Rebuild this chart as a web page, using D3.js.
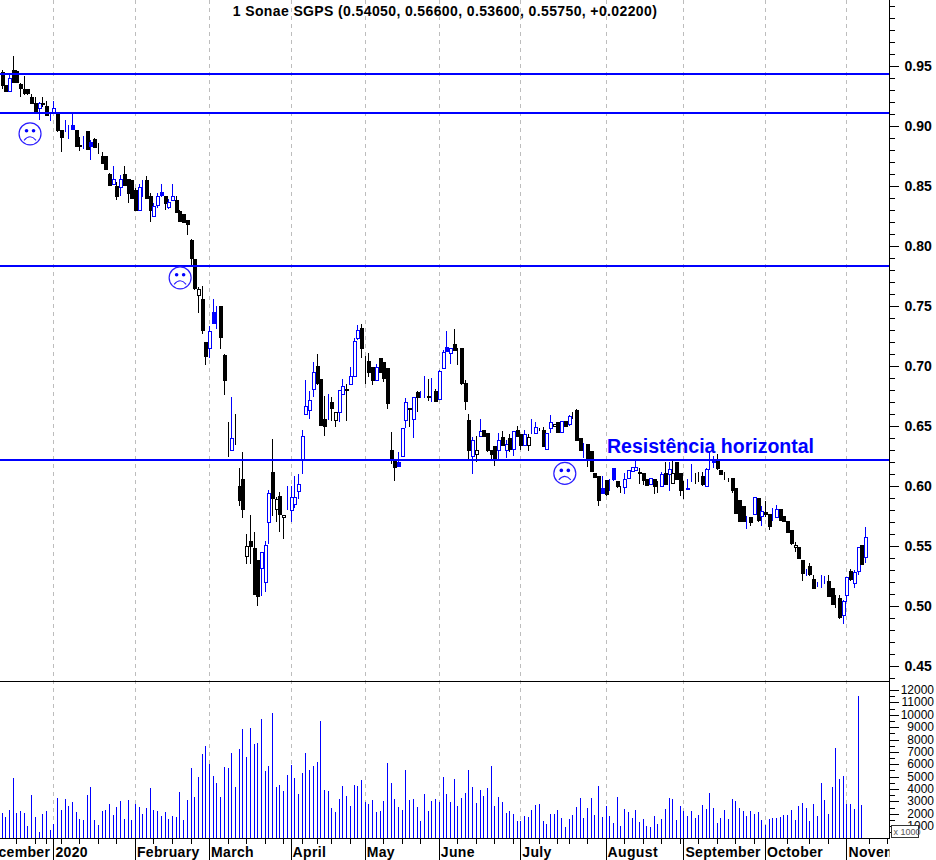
<!DOCTYPE html>
<html>
<head>
<meta charset="utf-8">
<title>Sonae SGPS</title>
<script src="https://cdn.jsdelivr.net/npm/d3@7/dist/d3.min.js"></script>
<style>
	html, body { margin: 0; padding: 0; background: #fff; }
	svg { display: block; font-family: "Liberation Sans", Arial, sans-serif; }
</style>
</head>
<body>
<div id="chart"></div>
<script>
// values, one entry per trading day
var opens = [
	.945,.934,.929,.947,.946,.935,.931,.931,.924,.919,
	.915,.919,.917,.9105,.911,.911,.897,.8965,.897,.901,
	.897,.884,.8895,.896,.887,.889,.881,.875,.875,.860,
	.852,.850,.849,.860,.856,.855,.847,.830,.851,.855,
	.842,.825,.834,.845,.842,.833,.839,.838,.829,.827,
	.822,.805,.789,.759,.756,.720,.715,.745,.739,.750,
	.709,.627,.630,.638,.600,.606,.542,.554,.548,.538,
	.532,.520,.570,.612,.581,.592,.574,.590,.580,.585,
	.596,.622,.660,.664,.681,.700,.689,.656,.670,.670,
	.655,.662,.676,.680,.685,.692,.723,.732,.699,.704,
	.699,.688,.707,.703,.698,.630,.621,.620,.625,.655,
	.664,.656,.678,.679,.680,.675,.683,.679,.673,.699,
	.716,.711,.718,.710,.715,.686,.655,.625,.627,.642,
	.647,.644,.630,.633,.630,.641,.630,.640,.631,.647,
	.643,.634,.634,.646,.644,.647,.647,.631,.648,.650,
	.653,.645,.654,.651,.6575,.663,.640,.634,.635,.629,
	.611,.608,.598,.605,.605,.615,.604,.5995,.599,.6065,
	.612,.6135,.612,.611,.606,.602,.606,.5995,.600,.611,
	.610,.603,.620,.611,.595,.5985,.606,.6045,.604,.608,
	.600,.620,.620,.622,.613,.608,.605,.607,.598,.5885,
	.583,.572,.574,.577,.590,.5745,.5785,.577,.5775,.5745,
	.581,.575,.571,.563,.549,.5495,.538,.5285,.533,.5225,
	.518,.5205,.521,.521,.515,.501,.507,.492,.509,.529,
	.519,.5295,.551,.5405
];
var highs = [
	.947,.934,.943,.958,.947,.936,.942,.931,.927,.924,
	.920,.924,.921,.911,.921,.912,.897,.905,.901,.910,
	.897,.891,.892,.896,.888,.890,.886,.878,.875,.861,
	.867,.853,.859,.867,.856,.855,.848,.852,.855,.858,
	.844,.836,.844,.852,.842,.839,.852,.842,.830,.827,
	.822,.806,.789,.766,.767,.720,.733,.756,.750,.750,
	.710,.653,.674,.660,.615,.628,.560,.576,.562,.538,
	.545,.554,.597,.639,.591,.595,.576,.600,.600,.608,
	.610,.647,.688,.679,.703,.710,.689,.675,.677,.674,
	.662,.680,.689,.685,.699,.723,.734,.735,.708,.711,
	.699,.702,.707,.703,.698,.645,.621,.628,.648,.673,
	.665,.674,.679,.679,.692,.689,.690,.681,.697,.713,
	.729,.715,.731,.715,.715,.688,.660,.641,.642,.656,
	.647,.644,.630,.633,.644,.646,.638,.643,.646,.650,
	.643,.647,.643,.656,.653,.648,.649,.644,.659,.652,
	.653,.654,.654,.659,.662,.664,.640,.636,.635,.629,
	.611,.608,.608,.605,.606,.615,.604,.600,.611,.6135,
	.616,.622,.615,.611,.606,.607,.606,.604,.612,.620,
	.620,.622,.620,.611,.604,.606,.618,.611,.612,.612,
	.615,.628,.625,.627,.613,.612,.607,.607,.598,.5885,
	.583,.575,.574,.591,.590,.583,.5875,.577,.5815,.584,
	.581,.575,.571,.563,.553,.5495,.538,.531,.536,.526,
	.520,.5255,.525,.5255,.515,.509,.509,.505,.524,.531,
	.530,.5495,.551,.566
];
var lows = [
	.931,.928,.928,.937,.937,.924,.926,.926,.919,.911,
	.905,.916,.910,.904,.911,.895,.878,.895,.889,.897,
	.884,.879,.881,.881,.872,.882,.877,.868,.864,.851,
	.851,.838,.842,.850,.836,.839,.830,.830,.841,.840,
	.820,.825,.832,.841,.830,.831,.839,.828,.821,.820,
	.809,.783,.763,.744,.727,.701,.707,.735,.731,.714,
	.676,.624,.630,.634,.583,.573,.535,.535,.510,.500,
	.508,.512,.552,.575,.570,.562,.556,.580,.570,.582,
	.589,.610,.660,.656,.674,.684,.651,.642,.655,.654,
	.649,.653,.676,.654,.685,.691,.722,.707,.685,.691,
	.684,.688,.695,.687,.664,.618,.604,.617,.625,.648,
	.649,.640,.662,.673,.673,.671,.670,.670,.673,.698,
	.712,.702,.713,.701,.684,.663,.621,.610,.620,.641,
	.642,.628,.622,.617,.622,.633,.623,.628,.625,.642,
	.630,.634,.629,.643,.643,.646,.633,.631,.644,.650,
	.644,.644,.650,.650,.656,.638,.629,.623,.616,.612,
	.607,.583,.594,.592,.596,.604,.598,.594,.593,.606,
	.612,.6135,.602,.601,.601,.602,.593,.594,.600,.602,
	.596,.603,.606,.592,.589,.597,.603,.602,.603,.600,
	.600,.613,.615,.613,.610,.605,.603,.594,.577,.571,
	.5705,.564,.567,.577,.570,.567,.5745,.5635,.571,.574,
	.572,.571,.561,.551,.545,.539,.521,.525,.525,.515,
	.516,.515,.518,.5085,.5005,.498,.489,.485,.503,.521,
	.515,.5255,.535,.536
];
var closes = [
	.934,.929,.940,.937,.9365,.932,.928,.9275,.919,.911,
	.919,.918,.9095,.9105,.915,.897,.891,.8965,.897,.8975,
	.884,.8835,.8895,.881,.884,.882,.881,.869,.864,.851,
	.856,.842,.856,.851,.844,.840,.830,.849,.851,.840,
	.830,.833,.8415,.8425,.836,.837,.842,.828,.821,.8205,
	.819,.790,.765,.764,.730,.708,.729,.736,.739,.724,
	.688,.627,.640,.638,.588,.581,.550,.5495,.510,.508,
	.545,.551,.594,.590,.589,.577,.576,.590,.5905,.591,
	.602,.642,.667,.672,.695,.686,.651,.6505,.670,.665,
	.662,.680,.683,.681,.692,.721,.730,.715,.699,.695,
	.688,.699,.695,.690,.669,.622,.616,.617,.648,.670,
	.665,.674,.6735,.679,.680,.674,.683,.671,.696,.712,
	.713,.715,.713,.710,.686,.671,.630,.638,.630,.646,
	.642,.630,.627,.622,.638,.634,.635,.631,.646,.642,
	.634,.643,.641,.646,.649,.647,.634,.644,.653,.652,
	.645,.654,.650,.658,.6575,.638,.630,.634,.622,.612,
	.608,.588,.594,.593,.605,.6055,.600,.5995,.606,.6135,
	.6155,.616,.611,.605,.601,.607,.600,.5995,.610,.602,
	.614,.611,.606,.597,.595,.598,.606,.6045,.604,.601,
	.614,.620,.6205,.615,.610,.608,.605,.597,.577,.571,
	.5705,.572,.570,.591,.572,.579,.577,.567,.5775,.581,
	.572,.571,.562,.552,.551,.540,.527,.5285,.526,.515,
	.518,.5205,.521,.5085,.5015,.501,.491,.504,.524,.522,
	.528,.5495,.5355,.5575
];
var volumes = [
	2025,1700,2300,4860,2100,2200,2100,1000,3500,1730,
	510,1970,2200,675,1160,3270,2300,3190,2620,2940,
	2130,1570,1490,3510,4160,1490,1080,2210,2300,2780,
	1890,2540,3020,1570,3100,1490,2780,2540,1970,2460,
	4080,2300,2210,1810,2130,1570,1810,1730,3750,1490,
	3100,5700,3350,4970,6830,7480,6020,5050,4480,3350,
	5780,5700,6910,4160,7240,8860,6590,8940,7640,7720,
	9670,5450,5860,10150,4160,4320,3830,5130,5940,4890,
	3590,5290,6910,5530,5860,6180,9500,3920,3830,2460,
	2130,3190,4240,3430,2620,4320,4240,4730,2940,2780,
	3100,2130,2210,3020,6100,4480,3190,2540,2300,5530,
	3100,3190,2540,1400,3590,2210,3020,3190,2940,4970,
	3590,2940,4810,2620,3270,3670,5530,4160,2860,3920,
	3430,4080,5860,2620,3350,2940,2050,2210,1970,1400,
	1400,1810,1730,2300,2700,2780,1400,1160,1970,1970,
	2300,1650,920,1570,1890,2540,3270,1650,2460,3270,
	1890,4240,1730,2620,1810,1215,3350,1000,2380,2130,
	1650,2300,1320,1570,1000,920,1810,1160,1570,2380,
	3270,3190,1490,2620,2210,1810,2210,1650,1890,2700,
	2380,3670,2460,1240,1650,2300,1570,3190,3020,2460,
	2210,1810,2210,1970,2130,1490,1080,1570,1650,1650,
	1730,1890,1890,2300,1490,2620,2860,2460,1400,2780,
	1810,4480,3100,1970,4160,7320,4810,5050,2780,2780,
	2380,11530,2700
];

var monthLabels = ["December", "2020", "February", "March", "April", "May", "June", "July", "August", "September", "October", "November"];
var monthStarts = [-6.4, 14, 36, 56, 78, 98, 118, 140, 163, 184, 206, 228];
var weekTicks = [4, 9, 12, 16, 21, 26, 31, 41, 46, 51, 61, 66, 71, 76, 81, 85, 89, 94, 103, 108, 113, 123, 128, 133, 138, 145, 150, 153, 158, 168, 173, 178, 183, 188, 193, 198, 203, 212, 218, 223, 234, 239];
var priceLabels = [0.45, 0.50, 0.55, 0.60, 0.65, 0.70, 0.75, 0.80, 0.85, 0.90, 0.95];
var resistanceLevels = [0.9435, 0.911, 0.7835, 0.622];
var sadIndex = [7.7, 48.2, 152];
var sadPrice = [0.8935, 0.7735, 0.6105];
var title = "1 Sonae SGPS (0.54050, 0.56600, 0.53600, 0.55750, +0.02200)";

var width = 936, height = 860;
var rightEdge = 889.5, paneLine = 681.5, baseLine = 838.5;

var x = d3.scaleLinear().domain([0, 233]).range([1.5, 865]);
var y = d3.scaleLinear().domain([0.95, 0.45]).range([66, 666]);
var yVol = d3.scaleLinear().domain([0, 12000]).range([baseLine, 690]);

var px = function(v) { return Math.round(v) + 0.5; };

var svg = d3.select("#chart").append("svg")
	.attr("width", width)
	.attr("height", height);

// month separators first, everything else sits on top of them
svg.append("g").selectAll("line")
	.data(monthStarts.slice(1))
	.enter().append("line")
		.attr("x1", function(d) { return px(x(d)); })
		.attr("x2", function(d) { return px(x(d)); })
		.attr("y1", 0)
		.attr("y2", baseLine)
		.attr("stroke", "#bdbdbd")
		.attr("stroke-dasharray", "4,4");

var marks = svg.append("g").attr("shape-rendering", "crispEdges");

var colour = function(i) {
	return (i > 0 && closes[i] > closes[i - 1]) ? "#0000ff" : "#000";
};

var bars = marks.append("g").selectAll("g")
	.data(d3.range(opens.length))
	.enter().append("g")
		.attr("stroke", colour);

bars.append("line")
	.attr("x1", function(i) { return px(x(i)); })
	.attr("x2", function(i) { return px(x(i)); })
	.attr("y1", function(i) { return y(highs[i]); })
	.attr("y2", function(i) { return y(lows[i]); });

bars.append("rect")
	.attr("x", function(i) { return px(x(i)) - 1.5; })
	.attr("width", 3)
	.attr("y", function(i) { return px(y(Math.max(opens[i], closes[i]))); })
	.attr("height", function(i) { return Math.round(Math.abs(y(opens[i]) - y(closes[i]))); })
	.attr("fill", function(i) {
		return closes[i] < opens[i] ? colour(i) : "#fff";
	});

marks.append("g").selectAll("line")
	.data(volumes)
	.enter().append("line")
		.attr("x1", function(d, i) { return px(x(i)); })
		.attr("x2", function(d, i) { return px(x(i)); })
		.attr("y1", function(d) { return yVol(d); })
		.attr("y2", baseLine)
		.attr("stroke", "#0000ff");

marks.append("g").selectAll("line")
	.data(resistanceLevels)
	.enter().append("line")
		.attr("x1", 0)
		.attr("x2", rightEdge)
		.attr("y1", function(d) { return y(d); })
		.attr("y2", function(d) { return y(d); })
		.attr("stroke", "#0000ff")
		.attr("stroke-width", 2);

// the three frowns
var faces = svg.append("g").selectAll("g")
	.data(sadIndex)
	.enter().append("g")
		.attr("transform", function(d, i) {
			return "translate(" + x(d) + "," + y(sadPrice[i]) + ")";
		})
		.attr("fill", "none")
		.attr("stroke", "#2a1cff");

faces.append("circle").attr("r", 11).attr("stroke-width", 1.2);
faces.append("path")
	.attr("d", "M-6,6.5 Q0,-0.5 6,6.5")
	.attr("stroke-width", 1.1);
faces.selectAll(".eye")
	.data([-3.5, 3.5])
	.enter().append("circle")
		.attr("class", "eye")
		.attr("cx", function(d) { return d; })
		.attr("cy", -3)
		.attr("r", 1.8)
		.attr("fill", "#0000ff")
		.attr("stroke", "none");

svg.append("text")
	.attr("x", 607)
	.attr("y", 453)
	.attr("font-size", 19.5)
	.attr("font-weight", "bold")
	.attr("fill", "#0000ff")
	.text("Resistência horizontal");

svg.append("text")
	.attr("x", 445)
	.attr("y", 16)
	.attr("text-anchor", "middle")
	.attr("font-size", 14)
	.attr("letter-spacing", 0.38)
	.attr("font-weight", "bold")
	.text(title);

// frame
var frame = svg.append("g").attr("shape-rendering", "crispEdges").attr("stroke", "#000");
frame.append("line").attr("x1", rightEdge).attr("x2", rightEdge).attr("y1", 0).attr("y2", baseLine);
frame.append("line").attr("x1", 0).attr("x2", rightEdge).attr("y1", paneLine).attr("y2", paneLine);
frame.append("line").attr("x1", 0).attr("x2", rightEdge).attr("y1", baseLine).attr("y2", baseLine);

// right axes, minor ticks go in a second call without labels
var priceMinor = d3.axisRight(y)
	.tickValues(d3.range(44, 101).map(function(d) { return d / 100; }))
	.tickSize(5)
	.tickFormat("");
var priceMajor = d3.axisRight(y)
	.tickValues(priceLabels)
	.tickSize(9)
	.tickPadding(6)
	.tickFormat(d3.format(".2f"));
var volMinor = d3.axisRight(yVol)
	.tickValues(d3.range(500, 12500, 1000))
	.tickSize(5)
	.tickFormat("");
var volMajor = d3.axisRight(yVol)
	.tickValues(d3.range(1000, 13000, 1000))
	.tickSize(9)
	.tickFormat("");

[priceMinor, priceMajor, volMinor, volMajor].forEach(function(axis) {
	var g = svg.append("g")
		.attr("transform", "translate(" + rightEdge + ",0)")
		.attr("shape-rendering", "crispEdges")
		.call(axis);
	g.select(".domain").remove();
});

svg.selectAll("g text")
	.filter(function() { return this.parentNode.classList.contains("tick"); })
	.attr("font-family", "Liberation Sans")
	.attr("font-size", 14)
	.attr("font-weight", "bold")
	.attr("fill", "#000")
	.attr("text-anchor", "start");

svg.append("g").selectAll("text")
	.data(d3.range(1000, 13000, 1000))
	.enter().append("text")
		.attr("x", 934)
		.attr("y", function(d) { return yVol(d) + 4; })
		.attr("text-anchor", "end")
		.attr("font-size", 12)
		.text(function(d) { return d; });

// x1000 tag over the lowest volume label
var tag = svg.append("g");
tag.append("rect")
	.attr("x", 891.5).attr("y", 825.5).attr("width", 27).attr("height", 12)
	.attr("fill", "#fff").attr("stroke", "#333").attr("shape-rendering", "crispEdges");
tag.append("text")
	.attr("x", 893.5).attr("y", 835)
	.attr("font-size", 9).attr("fill", "#555")
	.text("x 1000");

// bottom axis
var axisBar = svg.append("g").attr("shape-rendering", "crispEdges").attr("stroke", "#000");
axisBar.selectAll(".week")
	.data(weekTicks)
	.enter().append("line")
		.attr("class", "week")
		.attr("x1", function(d) { return px(x(d)); })
		.attr("x2", function(d) { return px(x(d)); })
		.attr("y1", baseLine)
		.attr("y2", baseLine + 5);
axisBar.selectAll(".month")
	.data(monthStarts.slice(1))
	.enter().append("line")
		.attr("class", "month")
		.attr("x1", function(d) { return px(x(d)); })
		.attr("x2", function(d) { return px(x(d)); })
		.attr("y1", baseLine)
		.attr("y2", height);

svg.append("clipPath").attr("id", "xlabels")
	.append("rect").attr("width", rightEdge).attr("height", height);

svg.append("g").attr("clip-path", "url(#xlabels)").selectAll("text")
	.data(monthLabels)
	.enter().append("text")
		.attr("x", function(d, i) { return x(monthStarts[i]) + 2; })
		.attr("y", 857)
		.attr("font-size", 14)
		.attr("letter-spacing", 0.35)
		.attr("font-weight", "bold")
		.text(function(d) { return d; });
</script>
</body>
</html>
